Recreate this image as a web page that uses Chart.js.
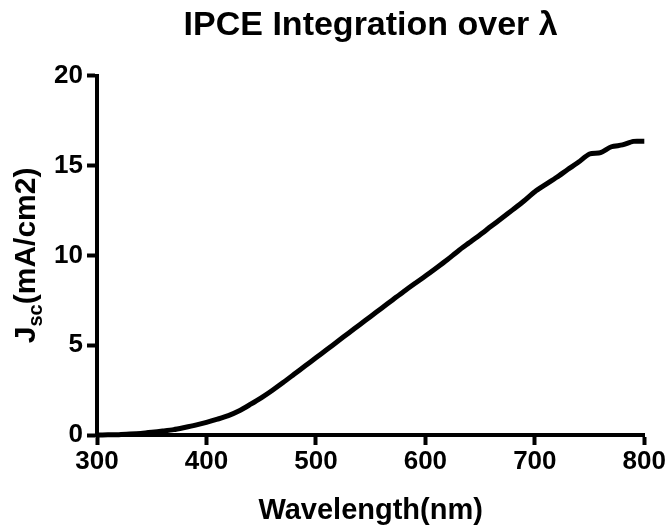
<!DOCTYPE html>
<html>
<head>
<meta charset="utf-8">
<script src="https://cdn.jsdelivr.net/npm/chart.js@4.4.0/dist/chart.umd.min.js"></script>
<style>
  html, body { margin: 0; padding: 0; background: #fff; }
  #wrap { width: 667px; height: 529px; }
</style>
</head>
<body>
<div id="wrap"><canvas id="chart"></canvas></div>
<script>
// wavelength (nm) and integrated current density (mA/cm2)
const wavelengths = [300, 310, 320, 330, 340, 350, 360, 370, 380, 390,
                     400, 410, 420, 430, 440, 450, 460, 470, 480, 490,
                     500, 510, 520, 530, 540, 550, 560, 570, 580, 590,
                     600, 610, 620, 630, 640, 650, 660, 670, 680, 690,
                     700, 710, 720, 730, 740, 750, 760, 770, 780, 790, 800];
const jsc = [0.00, 0.01, 0.02, 0.05, 0.09, 0.15, 0.22, 0.30, 0.42, 0.55,
             0.70, 0.88, 1.08, 1.35, 1.70, 2.07, 2.48, 2.92, 3.38, 3.84,
             4.30, 4.76, 5.22, 5.68, 6.14, 6.60, 7.06, 7.52, 7.98, 8.42,
             8.85, 9.30, 9.76, 10.25, 10.70, 11.15, 11.62, 12.08, 12.55, 13.03,
             13.55, 13.95, 14.35, 14.78, 15.20, 15.65, 15.72, 16.05, 16.15, 16.35, 16.35];
const xTicks = [300, 400, 500, 600, 700, 800];
const yTicks = [0, 5, 10, 15, 20];

const FONT = '"Liberation Sans", Arial, sans-serif';

// y axis title has a subscript, so it is drawn by hand
const yTitlePlugin = {
  id: 'yTitle',
  afterDraw(chart) {
    const ctx = chart.ctx;
    const area = chart.chartArea;
    const cy = (area.top + area.bottom) / 2;
    const big = 'bold 30px ' + FONT;
    const small = 'bold 20px ' + FONT;
    ctx.save();
    ctx.font = big;
    const wJ = ctx.measureText('J').width;
    const wRest = ctx.measureText('(mA/cm2)').width;
    ctx.font = small;
    const wSub = ctx.measureText('sc').width;
    const total = wJ + wSub + wRest;
    ctx.translate(35, cy);
    ctx.rotate(-Math.PI / 2);
    ctx.fillStyle = '#000';
    ctx.textBaseline = 'alphabetic';
    ctx.textAlign = 'left';
    let x = -total / 2;
    ctx.font = big;
    ctx.fillText('J', x, 0);
    x += wJ;
    ctx.font = small;
    ctx.fillText('sc', x, 7);
    x += wSub;
    ctx.font = big;
    ctx.fillText('(mA/cm2)', x, 0);
    ctx.restore();
  }
};

const axisStyle = {
  border: { display: true, color: '#000', width: 4 },
  grid: { display: true, drawOnChartArea: false, drawTicks: true, tickLength: 10, tickWidth: 4, tickColor: '#000' },
};

new Chart(document.getElementById('chart'), {
  type: 'line',
  data: {
    datasets: [{
      data: wavelengths.map((w, i) => ({ x: w, y: jsc[i] })),
      borderColor: '#000',
      borderWidth: 5,
      pointRadius: 0,
      tension: 0.25,
      fill: false,
      clip: false
    }]
  },
  options: {
    responsive: true, maintainAspectRatio: false,
    animation: false,
    layout: { padding: { left: 0, right: 22, top: 0, bottom: 0 } },
    plugins: {
      legend: { display: false },
      tooltip: { enabled: false },
      title: {
        display: true, fullSize: false,
        text: 'IPCE Integration over λ',
        color: '#000',
        font: { family: FONT, size: 34, weight: 'bold' },
        padding: { top: 5, bottom: 30 }
      }
    },
    scales: {
      x: {
        type: 'linear', min: 300, max: 800,
        ...axisStyle,
        afterBuildTicks: s => { s.ticks = xTicks.map(v => ({ value: v })); },
        afterFit: s => { s.height = 94; },
        ticks: { color: '#000', font: { family: FONT, size: 26, weight: 'bold' }, padding: 1, maxRotation: 0 },
        title: { display: true, text: 'Wavelength(nm)', color: '#000', font: { family: FONT, size: 29, weight: 'bold' }, padding: { top: 2, bottom: 1 } }
      },
      y: {
        type: 'linear', min: 0, max: 20,
        ...axisStyle,
        afterBuildTicks: s => { s.ticks = yTicks.map(v => ({ value: v })); },
        afterFit: s => { s.width = 97; },
        ticks: { color: '#000', font: { family: FONT, size: 26, weight: 'bold' }, padding: 4 }
      }
    }
  },
  plugins: [yTitlePlugin]
});
</script>
</body>
</html>
